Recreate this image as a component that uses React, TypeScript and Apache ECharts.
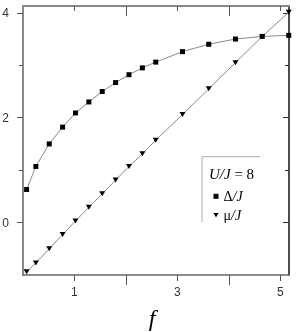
import React, { useEffect, useRef } from "react";
import * as echarts from "echarts";

const fValues = [0.07, 0.25, 0.51, 0.77, 1.02, 1.28, 1.54, 1.8, 2.06, 2.32, 2.58, 3.1, 3.61, 4.13, 4.65, 5.165];
const gapValues = [0.63, 1.07, 1.5, 1.82, 2.09, 2.3, 2.5, 2.67, 2.82, 2.95, 3.06, 3.26, 3.4, 3.5, 3.55, 3.57];
const muValues = [-0.94, -0.77, -0.5, -0.23, 0.03, 0.29, 0.55, 0.81, 1.07, 1.31, 1.57, 2.06, 2.55, 3.05, 3.55, 4.01];
const xLabelTicks = [1, 3, 5];
const xLongTicks = [2, 4];
const yLabelTicks = [0, 2, 4];
const yMinorTicks = [1, 3];
const seriesNames = ["Δ/J", "μ/J"];

const TRI = "path://M0,0L10,0L5,9Z";

export default function App() {
  const ref = useRef<HTMLDivElement>(null);
  useEffect(() => {
    if (!ref.current) return;
    const chart = echarts.init(ref.current, null, { renderer: "svg" });
    const gray = "#8a8a8a";
    const xMin = 0, xMax = 5.17, yMin = -1, yMax = 4.13;
    const xBase = { type: "value", min: xMin, max: xMax, splitLine: { show: false } };
    const yBase = { type: "value", min: yMin, max: yMax, splitLine: { show: false } };
    chart.setOption({
      animation: false,
      grid: { left: 23, right: 9, top: 6, bottom: 57, containLabel: false, outerBoundsMode: "none" },
      xAxis: [
        {
          ...xBase, position: "bottom",
          axisLine: { show: true, onZero: false, lineStyle: { color: "#666", width: 1.5 } },
          axisTick: { show: true, customValues: xLabelTicks, length: 6, lineStyle: { color: "#555" } },
          axisLabel: { show: true, customValues: xLabelTicks, margin: 11, color: "#333", fontSize: 12, fontFamily: "Liberation Sans" },
          name: "f", nameLocation: "middle", nameGap: 31,
          nameTextStyle: { fontFamily: "Liberation Serif", fontStyle: "italic", fontSize: 24, lineHeight: 24, color: "#000", padding: [0, 8, 0, 0] },
        },
        {
          ...xBase, position: "bottom",
          axisLine: { show: false, onZero: false },
          axisTick: { show: true, customValues: xLongTicks, length: 10, lineStyle: { color: "#555" } },
          axisLabel: { show: false },
        },
        {
          ...xBase, position: "top",
          axisLine: { show: true, onZero: false, lineStyle: { color: gray, width: 2 } },
          axisTick: { show: true, inside: true, customValues: xLabelTicks, length: 5, lineStyle: { color: "#555" } },
          axisLabel: { show: false },
        },
        {
          ...xBase, position: "top",
          axisLine: { show: false, onZero: false },
          axisTick: { show: true, inside: true, customValues: xLongTicks, length: 10, lineStyle: { color: "#555" } },
          axisLabel: { show: false },
        },
      ],
      yAxis: [
        {
          ...yBase, position: "left",
          axisLine: { show: true, onZero: false, lineStyle: { color: gray, width: 2 } },
          axisTick: { show: true, customValues: yLabelTicks, length: 6, lineStyle: { color: "#555" } },
          axisLabel: { show: true, customValues: yLabelTicks, margin: 14, color: "#333", fontSize: 12, fontFamily: "Liberation Sans" },
        },
        {
          ...yBase, position: "left",
          axisLine: { show: false, onZero: false },
          axisTick: { show: true, customValues: yMinorTicks, length: 4, lineStyle: { color: "#555" } },
          axisLabel: { show: false },
        },
        {
          ...yBase, position: "right",
          axisLine: { show: true, onZero: false, lineStyle: { color: "#111", width: 1.5 } },
          axisTick: { show: true, inside: true, customValues: yLabelTicks, length: 6, lineStyle: { color: "#333" } },
          axisLabel: { show: false },
        },
        {
          ...yBase, position: "right",
          axisLine: { show: false, onZero: false },
          axisTick: { show: true, inside: true, customValues: yMinorTicks, length: 4, lineStyle: { color: "#333" } },
          axisLabel: { show: false },
        },
      ],
      legend: {
        orient: "vertical",
        left: 208.5,
        top: 183.3,
        itemWidth: 5,
        itemHeight: 5,
        itemGap: 3,
        data: [
          { name: seriesNames[0], icon: "rect" },
          { name: seriesNames[1], icon: TRI },
        ],
        formatter: (name: string) => (name === seriesNames[0] ? "{u|Δ}{i|/J}" : "{u|μ}{i|/J}"),
        textStyle: {
          lineHeight: 16,
          rich: {
            u: { fontFamily: "Liberation Serif", fontSize: 14, color: "#000", lineHeight: 16 },
            i: { fontFamily: "Liberation Serif", fontStyle: "italic", fontSize: 14, color: "#000", lineHeight: 16 },
          },
        },
      },
      graphic: [
        { type: "line", shape: { x1: 202, y1: 156.7, x2: 260, y2: 156.7 }, style: { stroke: "#aaa", lineWidth: 1 } },
        { type: "line", shape: { x1: 202, y1: 156.7, x2: 202, y2: 222 }, style: { stroke: "#aaa", lineWidth: 1 } },
        {
          type: "text", x: 209, y: 173.5,
          style: {
            text: "{i|U/J}{u| = 8}",
            verticalAlign: "middle",
            rich: {
              u: { fontFamily: "Liberation Serif", fontSize: 15, fill: "#000" },
              i: { fontFamily: "Liberation Serif", fontStyle: "italic", fontSize: 15, fill: "#000" },
            },
          },
        },
      ],
      series: [
        {
          name: seriesNames[0], type: "line", xAxisIndex: 0, yAxisIndex: 0,
          data: fValues.map((f, i) => [f, gapValues[i]]),
          symbol: "rect", symbolSize: 5,
          itemStyle: { color: "#000" },
          lineStyle: { color: "#888", width: 1 },
        },
        {
          name: seriesNames[1], type: "line", xAxisIndex: 0, yAxisIndex: 0,
          data: fValues.map((f, i) => [f, muValues[i]]),
          symbol: TRI, symbolSize: [6, 5],
          itemStyle: { color: "#000" },
          lineStyle: { color: "#888", width: 1 },
        },
      ],
    });
    return () => chart.dispose();
  }, []);
  return <div ref={ref} style={{ position: "fixed", left: 0, top: 0, width: 298, height: 332 }} />;
}
